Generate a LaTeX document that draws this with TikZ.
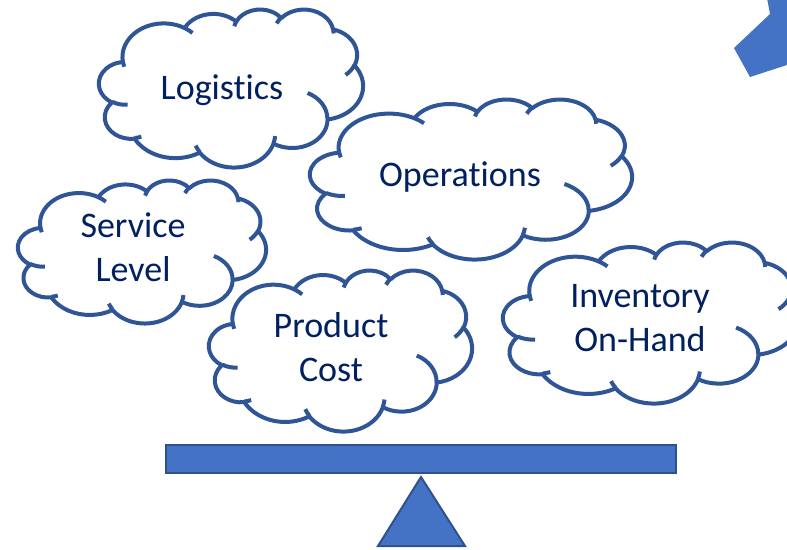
\documentclass[tikz,border=0pt]{standalone}
\usepackage{fontspec}
\setmainfont{Carlito}[Ligatures=NoCommon]

\definecolor{cloudblue}{HTML}{2F5597}
\definecolor{textnavy}{HTML}{002060}
\definecolor{beamblue}{HTML}{4472C4}
\definecolor{beamedge}{HTML}{2F528F}

% cloud outline in a 432 x 432 grid, stretched to the box (left, top, width, height)
\newcommand\cloudshape[4]{%
  \pgfmathsetmacro\cloudsx{#3/432}%
  \pgfmathsetmacro\cloudsy{#4/432}%
  \begin{scope}[shift={(#1,#2)},x=\cloudsx pt,y=-\cloudsy pt]
    \draw[cloudline,fill=white] (39,143.7)
      \foreach \rx/\ry/\sa/\da [evaluate={\sa as \pa using atan2(\rx*sin(\sa),\ry*cos(\sa))},
                                evaluate={\da as \pb using atan2(\rx*sin(\sa+\da),\ry*cos(\sa+\da))}] in
      {67.53/91.90/-190.4875/123.7805, 53.33/72.67/-144.1024/89.9452,
       43.65/59.45/-145.8079/99.7230, 48.57/65.95/-130.9861/117.2417,
       53.33/72.73/-78.7089/109.0269, 67.75/92.20/-46.2673/130.2690,
       57.85/78.67/0.6250/114.0333, 67.52/92.15/22.4516/115.1726,
       77.20/105.43/66.2426/75.7110, 43.60/59.18/-274.9421/146.7356,
       43.45/59.45/-246.8285/152.5189}
      { arc[start angle=\pa, delta angle={mod(\pb-\pa+720,360)}, x radius=\rx, y radius=\ry] } -- cycle;
    % inner curls
    \draw[cloudline]
      \foreach \px/\py/\rx/\ry/\sa/\da [evaluate={\sa as \pa using atan2(\rx*sin(\sa),\ry*cos(\sa))},
                                        evaluate={\da as \pb using atan2(\rx*sin(\sa+\da),\ry*cos(\sa+\da))}] in
      {46.93/261.77/43.45/59.45/86.7420/26.4295, 69.28/348.99/43.60/59.18/73.6105/11.4475,
       164.78/390.90/67.52/92.15/137.6241/14.0811, 288.27/347.51/67.52/92.15/6.4533/15.9984,
       341.29/229.54/57.85/78.67/-70.2924/70.9174, 417.98/153.54/53.33/72.73/30.3180/27.7515,
       383.24/54.26/48.57/65.95/-13.7443/14.8589, 290.78/39.52/48.57/65.95/-149.1815/18.1954,
       221.41/47.20/43.65/59.45/-163.4943/17.6864, 140.00/51.92/67.53/91.90/-66.7070/12.3194,
       41.27/157.89/67.53/91.90/157.6544/11.8582}
      { (\px,\py) arc[start angle=\pa, delta angle={mod(\pb-\pa+720,360)}, x radius=\rx, y radius=\ry] };
  \end{scope}}

\begin{document}
\begin{tikzpicture}[x=1pt,y=-1pt,
    cloudline/.style={draw=cloudblue,line width=4pt,line join=round},
    cloudtext/.style={font=\fontsize{36}{44}\selectfont,text=textnavy,align=center,inner sep=0pt},
    beam/.style={draw=beamedge,fill=beamblue,line width=2pt,minimum width=510pt,minimum height=28pt,inner sep=0pt},
    pivot/.style={draw=beamedge,fill=beamblue,line width=2pt,line join=miter}
  ]
    \useasboundingbox (0,0) rectangle (787,549);
    \clip (0,0) rectangle (787,549);

    % arrow piece in the corner
    \fill[beamblue] (767,-2) -- (770,14) -- (734,48) -- (750,77) -- (790,64) -- (790,-2) -- cycle;

    % clouds, back to front
    \cloudshape{99}{9}{264}{158}
    \cloudshape{310}{99}{322}{160}
    \cloudshape{18}{180}{248}{143}
    \cloudshape{209}{270}{263}{161}
    \cloudshape{503}{242}{295}{161}

    % texts
    \node[cloudtext] (logistics) at (222,90) {Logistics};
    \node[cloudtext] (operations) at (460,177) {Operations};
    \node[cloudtext] (service) at (133,247) {Service\\Level};
    \node[cloudtext] (cost) at (331,347) {Product\\Cost};
    \node[cloudtext] (inventory) at (640,318) {Inventory\\On-Hand};

    % the scale
    \node[beam] (bar) at (421,459) {};
    \draw[pivot] (421,477) -- (378,546) -- (465,546) -- cycle;
\end{tikzpicture}
\end{document}
